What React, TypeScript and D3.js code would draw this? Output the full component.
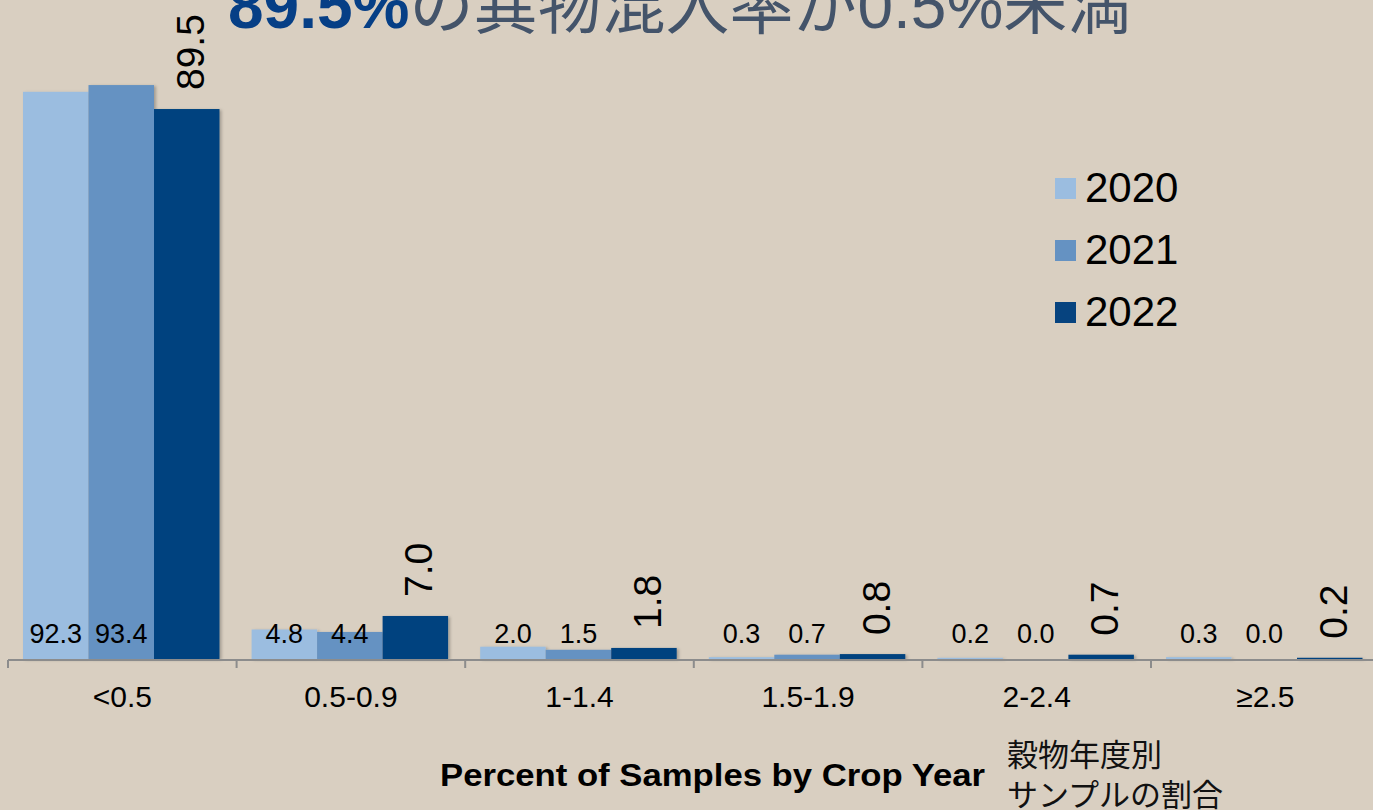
import * as d3 from 'd3'

const categories = ['<0.5', '0.5-0.9', '1-1.4', '1.5-1.9', '2-2.4', '≥2.5']
const years = ['2020', '2021', '2022']
const values2020 = [92.3, 4.8, 2.0, 0.3, 0.2, 0.3]
const values2021 = [93.4, 4.4, 1.5, 0.7, 0.0, 0.0]
const values2022 = [89.5, 7.0, 1.8, 0.8, 0.7, 0.2]
const seriesValues = [values2020, values2021, values2022]
const colors = ['#9BBDE0', '#6592C2', '#06437F']

const titleHighlight = '89.5%'
const titleRest = 'の異物混入率が0.5%未満'
const axisTitle = 'Percent of Samples by Crop Year'
const axisTitleJa = ['穀物年度別', 'サンプルの割合']

export default function App() {
  const width = 1373
  const height = 810
  const baseY = 659
  const step = 228.6
  const left = 8

  const x = d3
    .scaleBand<string>()
    .domain(categories)
    .range([left, left + step * categories.length])
  // bars fill 196.5px of each 228.6px slot, starting 15px in
  const xInner = d3.scaleBand<string>().domain(years).range([15, 15 + 196.5])
  const y = d3.scaleLinear().domain([0, 100]).range([baseY, 44.5])

  const sans = '"Liberation Sans", Arial, sans-serif'
  const ja = '"Liberation Sans", "Noto Sans CJK JP", sans-serif'

  return (
    <svg
      width={width}
      height={height}
      style={{ position: 'absolute', left: 0, top: 0 }}
      fontFamily={sans}
    >
      <defs>
        <filter id="shadow" x="-10%" y="-10%" width="130%" height="130%">
          <feDropShadow dx={2} dy={1} stdDeviation={1.5} floodColor="#000" floodOpacity={0.25} />
        </filter>
      </defs>
      <rect width={width} height={height} fill="#D9CFC1" />

      {/* title, cut off at the top edge */}
      <text x={228} y={28} fontSize={64} fontFamily={ja}>
        <tspan fontWeight="bold" fill="#063F86">
          {titleHighlight}
        </tspan>
        <tspan fill="#44546A">{titleRest}</tspan>
      </text>

      {/* bars */}
      <g filter="url(#shadow)">
        {seriesValues.map((vals, si) =>
          vals.map((v, ci) => (
            <rect
              key={`${si}-${ci}`}
              x={x(categories[ci])! + xInner(years[si])!}
              y={y(v)}
              width={xInner.bandwidth()}
              height={baseY - y(v)}
              fill={colors[si]}
            />
          ))
        )}
      </g>

      {/* x axis */}
      <g stroke="#8C8C8C" strokeWidth={2}>
        <line x1={left} x2={width} y1={baseY + 1} y2={baseY + 1} />
        {categories.map((c) => (
          <line key={c} x1={x(c)!} x2={x(c)!} y1={baseY + 1} y2={baseY + 9} />
        ))}
      </g>
      <g textAnchor="middle" fontSize={30} fill="#000">
        {categories.map((c) => (
          <text key={c} x={x(c)! + x.bandwidth() / 2} y={707}>
            {c}
          </text>
        ))}
      </g>

      {/* value labels: 2020, 2021 horizontal at a fixed line */}
      <g textAnchor="middle" fontSize={27} fill="#000">
        {seriesValues.slice(0, 2).map((vals, si) =>
          vals.map((v, ci) => (
            <text
              key={`${si}-${ci}`}
              x={x(categories[ci])! + xInner(years[si])! + xInner.bandwidth() / 2}
              y={643}
            >
              {v.toFixed(1)}
            </text>
          ))
        )}
      </g>
      {/* 2022 labels rotated above the bar */}
      <g fontSize={39} fill="#000">
        {values2022.map((v, ci) => {
          const cx = x(categories[ci])! + xInner('2022')! + xInner.bandwidth() / 2
          const cy = y(v) - 19
          return (
            <text
              key={ci}
              transform={`translate(${cx + 3},${cy}) rotate(-90)`}
              dy="0.36em"
            >
              {v.toFixed(1)}
            </text>
          )
        })}
      </g>

      {/* legend */}
      <g fontSize={42} fill="#000">
        {years.map((yr, i) => (
          <g key={yr} transform={`translate(1055, ${178 + i * 62})`}>
            <rect width={21} height={21} fill={colors[i]} />
            <text x={30} y={24}>
              {yr}
            </text>
          </g>
        ))}
      </g>

      {/* bottom titles */}
      <text
        x={440}
        y={786}
        fontSize={32}
        fontWeight="bold"
        textLength={545}
        lengthAdjust="spacingAndGlyphs"
      >
        {axisTitle}
      </text>
      <g fontSize={31} fontFamily={'"Noto Sans CJK JP", sans-serif'} fill="#111">
        <text x={1007} y={766}>
          {axisTitleJa[0]}
        </text>
        <text x={1007} y={806}>
          {axisTitleJa[1]}
        </text>
      </g>
    </svg>
  )
}
